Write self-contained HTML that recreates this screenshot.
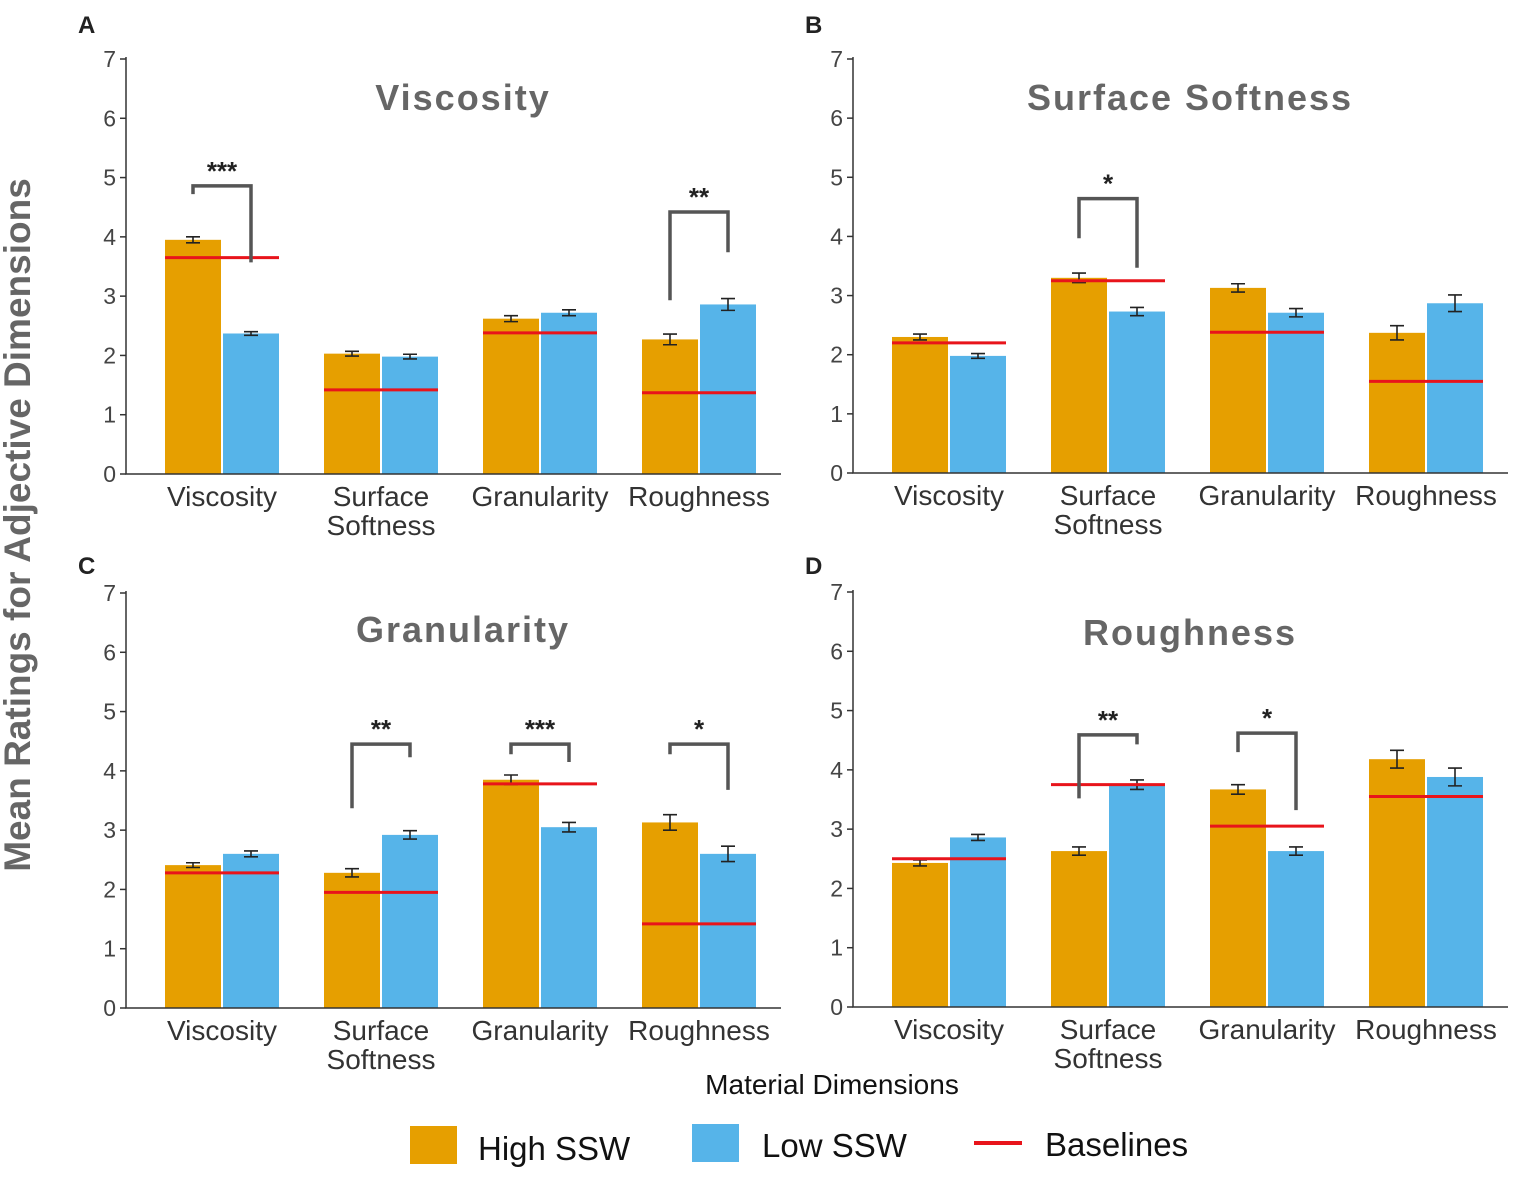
<!DOCTYPE html>
<html><head><meta charset="utf-8">
<style>
html,body{margin:0;padding:0;background:#fff;}
svg{display:block;font-family:"Liberation Sans",sans-serif;}
</style></head>
<body>
<svg id="chart" width="1535" height="1184" viewBox="0 0 1535 1184">
<text x="30" y="525" transform="rotate(-90 30 525)" text-anchor="middle" font-size="37" font-weight="bold" fill="#666">Mean Ratings for Adjective Dimensions</text>
<text x="832" y="1094" text-anchor="middle" font-size="28" fill="#111">Material Dimensions</text>
<g>
<rect x="410" y="1126" width="47" height="38" fill="#E69F00"></rect>
<text x="478" y="1160" font-size="33" fill="#111">High SSW</text>
<rect x="692" y="1124" width="47" height="38" fill="#56B4E9"></rect>
<text x="762" y="1157" font-size="33" fill="#111">Low SSW</text>
<rect x="974" y="1141" width="48" height="4" fill="#E8141B"></rect>
<text x="1045" y="1156" font-size="33" fill="#111">Baselines</text>
</g>
</svg>
<script>
const categories = ["Viscosity","Surface Softness","Granularity","Roughness"];
const panelTitles = ["Viscosity","Surface Softness","Granularity","Roughness"];
const panelLetters = ["A","B","C","D"];
const yTicks = [0,1,2,3,4,5,6,7];
const highA = [3.95,2.03,2.62,2.27];
const lowA  = [2.37,1.98,2.72,2.86];
const baseA = [3.65,1.42,2.38,1.37];
const highErrA = [0.05,0.04,0.05,0.09];
const lowErrA  = [0.03,0.04,0.05,0.1];
const highB = [2.30,3.30,3.13,2.37];
const lowB  = [1.98,2.73,2.71,2.87];
const baseB = [2.20,3.25,2.38,1.55];
const highErrB = [0.05,0.08,0.07,0.12];
const lowErrB  = [0.04,0.07,0.07,0.14];
const highC = [2.41,2.28,3.85,3.13];
const lowC  = [2.60,2.92,3.05,2.60];
const baseC = [2.28,1.95,3.78,1.42];
const highErrC = [0.04,0.07,0.08,0.13];
const lowErrC  = [0.05,0.07,0.08,0.13];
const highD = [2.43,2.63,3.67,4.18];
const lowD  = [2.86,3.75,2.63,3.88];
const baseD = [2.50,3.75,3.05,3.55];
const highErrD = [0.05,0.07,0.08,0.15];
const lowErrD  = [0.05,0.08,0.07,0.15];
// significance brackets: [group, top, leftLegBottom, rightLegBottom, stars]
const sigA = [[0,4.86,4.72,3.57,"***"],[3,4.42,2.93,3.74,"**"]];
const sigB = [[1,4.64,3.97,3.47,"*"]];
const sigC = [[1,4.45,3.37,4.23,"**"],[2,4.45,4.28,4.15,"***"],[3,4.45,4.28,3.68,"*"]];
const sigD = [[1,4.59,3.52,4.43,"**"],[2,4.62,4.30,3.32,"*"]];

const panels = [
 {ax:126,y0:474,y7:59,titleY:110,high:highA,low:lowA,base:baseA,he:highErrA,le:lowErrA,sig:sigA,lx:78,ly:33},
 {ax:853,y0:473,y7:59,titleY:110,high:highB,low:lowB,base:baseB,he:highErrB,le:lowErrB,sig:sigB,lx:805,ly:33},
 {ax:126,y0:1008,y7:593,titleY:642,high:highC,low:lowC,base:baseC,he:highErrC,le:lowErrC,sig:sigC,lx:78,ly:574},
 {ax:853,y0:1007,y7:592,titleY:645,high:highD,low:lowD,base:baseD,he:highErrD,le:lowErrD,sig:sigD,lx:805,ly:574}
];
const NS="http://www.w3.org/2000/svg";
const svg=document.getElementById('chart');
function mk(tag,attrs,parent){const e=document.createElementNS(NS,tag);for(const k in attrs)e.setAttribute(k,attrs[k]);(parent||svg).appendChild(e);return e;}
panels.forEach((p,pi)=>{
 const g=mk('g',{});
 
 
 const ys=v=>p.y0-(p.y0-p.y7)*v/7;
 const gx=i=>p.ax+96+159*i;
 const bw=56;
 const lt=mk('text',{x:p.lx,y:p.ly,'font-size':24,'font-weight':'bold',fill:'#222'},g);lt.textContent=panelLetters[pi];
 
 
 const tt=mk('text',{x:p.ax+337,y:p.titleY,'text-anchor':'middle','font-size':36,'font-weight':'bold',fill:'#666','letter-spacing':'2'},g);tt.textContent=panelTitles[pi];
 
 
 yTicks.forEach(t=>{
  const y=ys(t);
  const l=mk('line',{x1:p.ax-6,x2:p.ax,y1:y,y2:y,stroke:'#333','stroke-width':1.5},g);
  
  
  const tx=mk('text',{x:p.ax-10,y:y+8,'text-anchor':'end','font-size':23,fill:'#444'},g);tx.textContent=t;
  
  
 });
 categories.forEach((c,i)=>{
  const cx=gx(i);
  const b1=mk('rect',{x:cx-bw-1,y:ys(p.high[i]),width:bw,height:ys(0)-ys(p.high[i]),fill:'#E69F00'},g);
  
  
  const b2=mk('rect',{x:cx+1,y:ys(p.low[i]),width:bw,height:ys(0)-ys(p.low[i]),fill:'#56B4E9'},g);
  
  
  [[cx-bw/2-1,p.high[i],p.he[i]],[cx+bw/2+1,p.low[i],p.le[i]]].forEach(([x,v,e])=>{
   const eb=mk('path',{d:`M${x-7},${ys(v+e)}H${x+7}M${x},${ys(v+e)}V${ys(v-e)}M${x-7},${ys(v-e)}H${x+7}`,stroke:'#222','stroke-width':1.6,fill:'none'},g);
   
   
  });
  const bl=mk('line',{x1:cx-bw-1,x2:cx+bw+1,y1:ys(p.base[i]),y2:ys(p.base[i]),stroke:'#E8141B','stroke-width':3},g);
  
  
  const words=c.split(' ');
  words.forEach((w,k)=>{
   const ct=mk('text',{x:cx,y:ys(0)+32+k*29,'text-anchor':'middle','font-size':28,fill:'#333'},g);ct.textContent=w;
   
   
  });
 });
 const ax=mk('path',{d:`M${p.ax},${ys(7)-2}V${ys(0)}H${p.ax+655}`,stroke:'#333','stroke-width':1.5,fill:'none'},g);
 
 
 p.sig.forEach(s=>{
  const cx=gx(s[0]);const xl=cx-bw/2-1,xr=cx+bw/2+1;
  const br=mk('path',{d:`M${xl},${ys(s[2])}V${ys(s[1])}H${xr}V${ys(s[3])}`,stroke:'#555','stroke-width':3.5,fill:'none'},g);
  
  
  const st=mk('text',{x:cx,y:ys(s[1])-6,'text-anchor':'middle','font-size':26,'font-weight':'bold',fill:'#222'},g);st.textContent=s[4];
  
  
 });
});
</script>
</body></html>
